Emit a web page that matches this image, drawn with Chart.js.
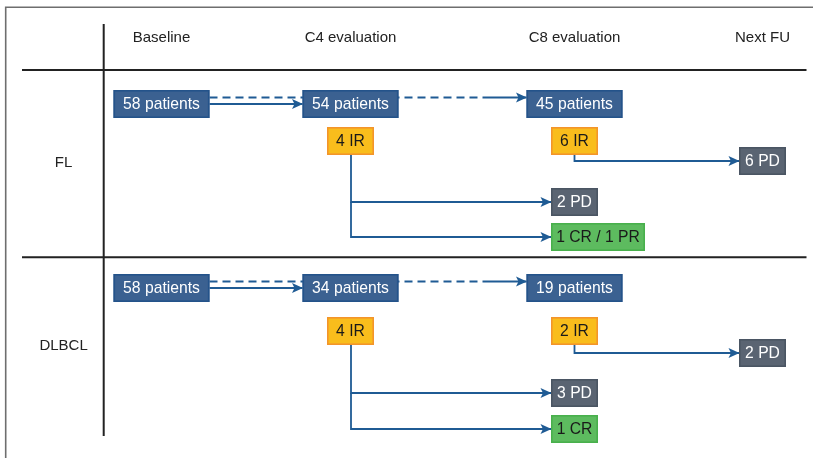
<!DOCTYPE html>
<html>
<head>
<meta charset="utf-8" />
<script src="https://cdn.jsdelivr.net/npm/chart.js"></script>
<style>
  html, body { margin: 0; padding: 0; background: #fff; }
  #wrap { width: 813px; height: 458px; }
</style>
</head>
<body>
<div id="wrap"><canvas id="flowChart" width="813" height="458"></canvas></div>

<script>
  // timepoints across the top, cohorts down the side
  const timepoints = ['Baseline', 'C4 evaluation', 'C8 evaluation', 'Next FU'];
  const cohorts = ['FL', 'DLBCL'];

  // patients evaluated at baseline / C4 / C8
  const flPatients = [58, 54, 45];
  const dlbclPatients = [58, 34, 19];

  // IR at C4 and at C8
  const flIR = [4, 6];
  const dlbclIR = [4, 2];

  // where the C4 IR patients ended up at C8
  const flC4Outcomes = ['2 PD', '1 CR / 1 PR'];
  const dlbclC4Outcomes = ['3 PD', '1 CR'];

  // where the C8 IR patients ended up at next FU
  const flNextFU = ['6 PD'];
  const dlbclNextFU = ['2 PD'];

  // ---- layout (diagram units = pixels of the 813x458 canvas) ----
  const colX = [161.5, 350.5, 574.5, 762.5];
  const rowTop = [90, 274];
  const rowGaps = [
    { ir: 37, next: 57, pd: 98, cr: 133 },
    { ir: 43, next: 65, pd: 105, cr: 141 },
  ];
  const BOX_H = 28;
  const LINE = '#1f5b94';
  const HEAD_FONT = '15px "Liberation Sans", Arial, sans-serif';
  const BOX_FONT = '15.7px "Liberation Sans", Arial, sans-serif';
  const styles = {
    patients: { fill: '#3b6191', stroke: '#24538a', text: '#ffffff' },
    ir: { fill: '#f9bd1c', stroke: '#f3952a', text: '#1a1a1a' },
    pd: { fill: '#5a6472', stroke: '#4a5563', text: '#ffffff' },
    cr: { fill: '#5dbb5f', stroke: '#48b04c', text: '#1a1a1a' },
  };

  const cohortPatients = [flPatients, dlbclPatients];
  const cohortIR = [flIR, dlbclIR];
  const cohortC4 = [flC4Outcomes, dlbclC4Outcomes];
  const cohortNext = [flNextFU, dlbclNextFU];

  const boxes = [];
  const connectors = [];

  function line(points, opts) {
    return Object.assign({
      data: points.map((p) => ({ x: p[0], y: p[1] })),
      showLine: true,
      pointRadius: 0,
      borderColor: LINE,
      borderWidth: 1.8,
      fill: false,
      tension: 0,
      arrow: false,
    }, opts || {});
  }

  cohorts.forEach((name, c) => {
    const top = rowTop[c];
    const g = rowGaps[c];
    const smallLeft = colX[2] - 23.5;

    cohortPatients[c].forEach((n, i) => {
      boxes.push({ label: n + ' patients', left: colX[i] - 48, top: top, w: 96, kind: 'patients' });
    });
    cohortIR[c].forEach((n, i) => {
      boxes.push({ label: n + ' IR', left: colX[i + 1] - 23.5, top: top + g.ir, w: 47, kind: 'ir' });
    });
    const crLabel = cohortC4[c][1];
    boxes.push({ label: cohortC4[c][0], left: smallLeft, top: top + g.pd, w: 47, kind: 'pd' });
    boxes.push({ label: crLabel, left: smallLeft, top: top + g.cr, w: crLabel.length > 5 ? 94 : 47, kind: 'cr' });
    boxes.push({ label: cohortNext[c][0], left: colX[3] - 23.5, top: top + g.next, w: 47, kind: 'pd' });

    // baseline -> C8 (dashed, joins a solid arrow), baseline -> C4
    const dashY = top + 7.5;
    const solidY = top + 14;
    connectors.push(line([[colX[0] + 48, dashY], [483, dashY]], { borderDash: [8, 5] }));
    connectors.push(line([[483, dashY], [colX[2] - 48, dashY]], { arrow: true }));
    connectors.push(line([[colX[0] + 48, solidY], [colX[1] - 48, solidY]], { arrow: true }));

    // C4 IR -> PD and CR at C8
    const irX = colX[1] + 0.5;
    const pdY = top + g.pd + BOX_H / 2;
    const crY = top + g.cr + BOX_H / 2;
    connectors.push(line([[irX, top + g.ir + BOX_H], [irX, pdY], [smallLeft, pdY]], { arrow: true }));
    connectors.push(line([[irX, pdY], [irX, crY], [smallLeft, crY]], { arrow: true }));

    // C8 IR -> next FU
    const nextY = top + g.next + BOX_H / 2;
    connectors.push(line([[colX[2], top + g.ir + BOX_H], [colX[2], nextY], [colX[3] - 23.5, nextY]], { arrow: true }));
  });

  const flowPlugin = {
    id: 'flow',
    beforeDatasetsDraw(chart) {
      const { ctx, scales: { x, y } } = chart;
      ctx.save();
      // outer frame
      ctx.strokeStyle = '#6e6e6e';
      ctx.lineWidth = 1.6;
      ctx.beginPath();
      ctx.moveTo(x.getPixelForValue(5.7), y.getPixelForValue(458));
      ctx.lineTo(x.getPixelForValue(5.7), y.getPixelForValue(7.3));
      ctx.lineTo(x.getPixelForValue(813), y.getPixelForValue(7.3));
      ctx.stroke();
      // grid of the table
      ctx.strokeStyle = '#222222';
      ctx.lineWidth = 2;
      ctx.beginPath();
      ctx.moveTo(x.getPixelForValue(103.7), y.getPixelForValue(24));
      ctx.lineTo(x.getPixelForValue(103.7), y.getPixelForValue(436));
      [70, 257.3].forEach((yy) => {
        ctx.moveTo(x.getPixelForValue(22), y.getPixelForValue(yy));
        ctx.lineTo(x.getPixelForValue(806.5), y.getPixelForValue(yy));
      });
      ctx.stroke();
      // headers
      ctx.fillStyle = '#222222';
      ctx.font = HEAD_FONT;
      ctx.textAlign = 'center';
      ctx.textBaseline = 'middle';
      timepoints.forEach((t, i) => {
        ctx.fillText(t, x.getPixelForValue(colX[i]), y.getPixelForValue(38));
      });
      const labelY = [163, 346];
      cohorts.forEach((t, c) => {
        ctx.fillText(t, x.getPixelForValue(63.6), y.getPixelForValue(labelY[c]));
      });
      ctx.restore();
    },
    afterDatasetsDraw(chart) {
      const { ctx, scales: { x, y } } = chart;
      ctx.save();
      // arrow heads
      chart.data.datasets.forEach((ds) => {
        if (!ds.arrow) return;
        const p1 = ds.data[ds.data.length - 2];
        const p2 = ds.data[ds.data.length - 1];
        const x1 = x.getPixelForValue(p1.x), y1 = y.getPixelForValue(p1.y);
        const x2 = x.getPixelForValue(p2.x), y2 = y.getPixelForValue(p2.y);
        const a = Math.atan2(y2 - y1, x2 - x1);
        ctx.save();
        ctx.translate(x2, y2);
        ctx.rotate(a);
        ctx.fillStyle = LINE;
        ctx.beginPath();
        ctx.moveTo(0.5, 0);
        ctx.lineTo(-10.5, -5);
        ctx.lineTo(-8, 0);
        ctx.lineTo(-10.5, 5);
        ctx.closePath();
        ctx.fill();
        ctx.restore();
      });
      // boxes
      ctx.font = BOX_FONT;
      ctx.textAlign = 'center';
      ctx.textBaseline = 'middle';
      boxes.forEach((b) => {
        const s = styles[b.kind];
        const l = x.getPixelForValue(b.left);
        const r = x.getPixelForValue(b.left + b.w);
        const t = y.getPixelForValue(b.top);
        const bt = y.getPixelForValue(b.top + BOX_H);
        ctx.fillStyle = s.fill;
        ctx.fillRect(l, t, r - l, bt - t);
        ctx.strokeStyle = s.stroke;
        ctx.lineWidth = 1.6;
        ctx.strokeRect(l + 0.8, t + 0.8, r - l - 1.6, bt - t - 1.6);
        ctx.fillStyle = s.text;
        ctx.fillText(b.label, (l + r) / 2, (t + bt) / 2 + 0.5);
      });
      ctx.restore();
    },
  };

  new Chart(document.getElementById('flowChart'), {
    type: 'scatter',
    data: { datasets: connectors },
    options: {
      responsive: false,
      devicePixelRatio: 1,
      animation: false,
      layout: { padding: 0 },
      plugins: { legend: { display: false }, tooltip: { enabled: false } },
      scales: {
        x: { type: 'linear', min: 0, max: 813, display: false },
        y: { type: 'linear', min: 0, max: 458, reverse: true, display: false },
      },
    },
    plugins: [flowPlugin],
  });
</script>
</body>
</html>
